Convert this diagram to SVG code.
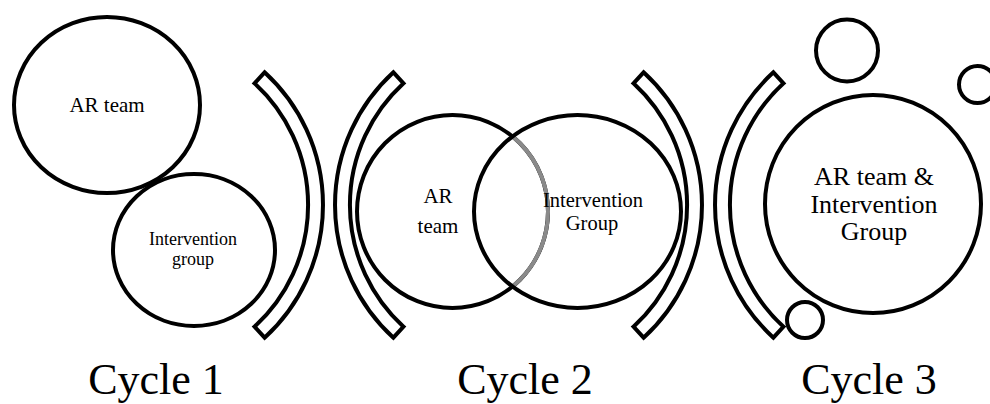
<svg xmlns="http://www.w3.org/2000/svg" xmlns:xlink="http://www.w3.org/1999/xlink" width="990" height="404" viewBox="0 0 990 404">
  <style>
    .ring { fill: none; stroke: #000; stroke-width: 4; }
    .ring-grey { fill: none; stroke: #8a8a8a; stroke-width: 4; }
    .band { fill: #fff; stroke: #000; stroke-width: 4; stroke-linejoin: miter; }
    .lbl { font-family: 'Liberation Serif', 'DejaVu Serif', serif; fill: #000; text-anchor: middle; }
    .cycle { font-size: 44px; }
  </style>
  <defs>
    <!-- curved bracket band: annular sector opening to the left, centred on the origin -->
    <path id="bracket" d="M121.6,-132.7 A180,180 0 0 1 121.6,132.7 L111.5,121.7 A165,165 0 0 0 111.5,-121.7 Z"/>
  </defs>
  <rect width="990" height="404" fill="#fff"/>

  <!-- separators between the cycles -->
  <g id="brackets">
    <use xlink:href="#bracket" class="band" transform="translate(143,205)"/>
    <use xlink:href="#bracket" class="band" transform="translate(515,205) scale(-1,1)"/>
    <use xlink:href="#bracket" class="band" transform="translate(522,205)"/>
    <use xlink:href="#bracket" class="band" transform="translate(895,205) scale(-1,1)"/>
  </g>

  <g font-family="Liberation Serif, DejaVu Serif, serif">
  <!-- Cycle 1 -->
  <g id="c1-ar-team">
    <ellipse class="ring" cx="107" cy="105" rx="93" ry="88"/>
    <text class="lbl" x="107" y="112" font-size="21">AR team</text>
  </g>
  <g id="c1-intervention">
    <ellipse class="ring" cx="194" cy="250" rx="81" ry="76"/>
    <text class="lbl" x="193" y="245" font-size="18">Intervention</text>
    <text class="lbl" x="193" y="265" font-size="18">group</text>
  </g>

  <!-- Cycle 2 -->
  <g id="c2-ar-team">
    <ellipse class="ring" cx="452.5" cy="211.5" rx="95.5" ry="96.5"/>
    <path class="ring-grey" d="M512.5,136.4 A95.5,96.5 0 0 1 512.5,286.6"/>
    <text class="lbl" x="438" y="203" font-size="21">AR</text>
    <text class="lbl" x="438" y="233" font-size="21">team</text>
  </g>
  <g id="c2-intervention">
    <ellipse class="ring" cx="577.5" cy="211.5" rx="103.5" ry="96.5"/>
    <text class="lbl" x="593" y="207" font-size="20.5">Intervention</text>
    <text class="lbl" x="592" y="230" font-size="20.5">Group</text>
  </g>

  <!-- Cycle 3 -->
  <g id="c3-combined">
    <ellipse class="ring" cx="873" cy="204" rx="108" ry="109"/>
    <text class="lbl" x="874" y="185" font-size="26">AR team &amp;</text>
    <text class="lbl" x="874" y="213" font-size="26">Intervention</text>
    <text class="lbl" x="874" y="240" font-size="26">Group</text>
  </g>
  <g id="c3-small-top"><circle class="ring" cx="847" cy="50.5" r="31"/></g>
  <g id="c3-small-right"><circle class="ring" cx="977.5" cy="84.5" r="18.5"/></g>
  <g id="c3-small-bottom"><circle class="ring" cx="805" cy="320" r="18"/></g>

  <!-- cycle captions -->
  <g id="captions">
    <text class="lbl cycle" x="156" y="394">Cycle 1</text>
    <text class="lbl cycle" x="525" y="394">Cycle 2</text>
    <text class="lbl cycle" x="869" y="394">Cycle 3</text>
  </g>
  </g>
</svg>
